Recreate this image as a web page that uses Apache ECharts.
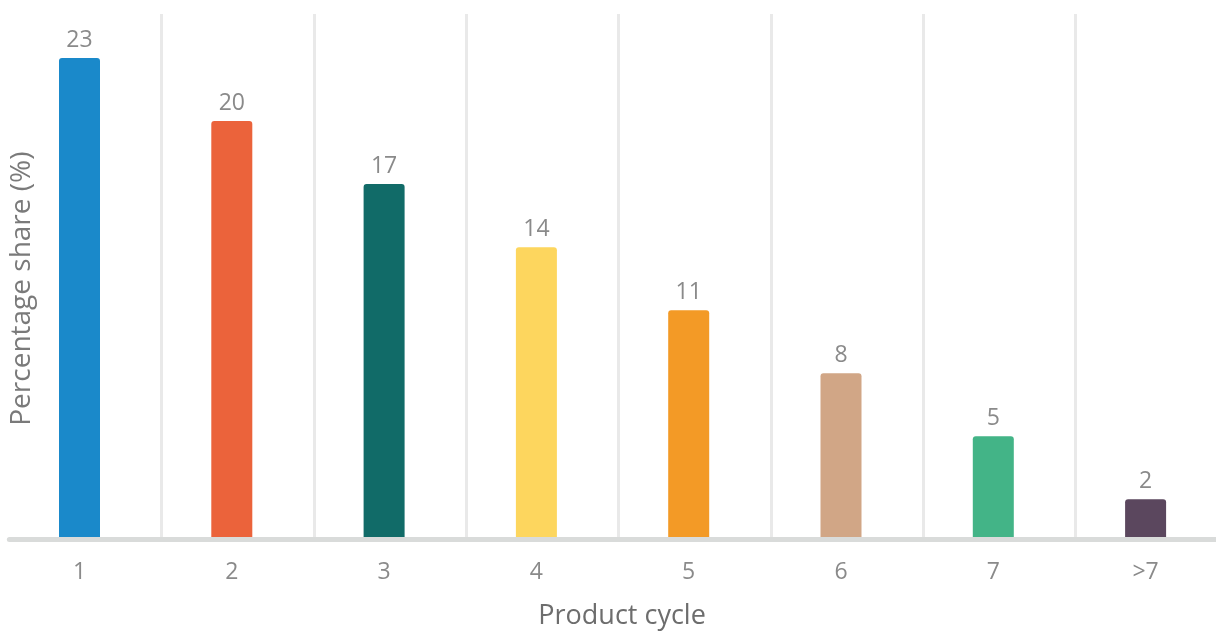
<!DOCTYPE html>
<html>
<head>
<meta charset="utf-8">
<script src="https://cdn.jsdelivr.net/npm/echarts@6/dist/echarts.min.js"></script>
<style>
  html, body { margin: 0; padding: 0; background: #ffffff; }
  #chart { width: 1216px; height: 633px; }
</style>
</head>
<body>
<div id="chart"></div>
<script>
// Share of products by product cycle
const categories = ['1', '2', '3', '4', '5', '6', '7', '>7'];
const shares = [23, 20, 17, 14, 11, 8, 5, 2];
const barColors = ['#1a89ca', '#eb633b', '#116b68', '#fdd65e', '#f39a26', '#d1a686', '#43b487', '#5b475e'];

const chart = echarts.init(document.getElementById('chart'), null, { renderer: 'canvas' });
const fontFamily = '"Open Sans", "Noto Sans", sans-serif';

chart.setOption({
  backgroundColor: '#ffffff',
  animation: false,
  grid: [
    // plotting area for the bars
    { left: 3.35, top: 16, width: 1218.4, bottom: 91.7, containLabel: false, outerBoundsMode: 'none' },
    // frame carrying the separators and the base line
    { left: 9.35, top: 14, width: 1218.4, bottom: 93.5, containLabel: false, outerBoundsMode: 'none' }
  ],
  xAxis: [{
    gridIndex: 0,
    type: 'category',
    data: categories,
    name: 'Product cycle',
    nameLocation: 'middle',
    nameGap: 62,
    nameTextStyle: { color: '#6d6d6d', fontSize: 27, fontFamily, padding: [0, 0, 0, 19] },
    axisLine: { show: false },
    axisTick: { show: false },
    axisLabel: { color: '#8a8a8a', fontSize: 23, fontFamily, margin: 20 },
    splitLine: { show: false }
  }, {
    gridIndex: 1,
    type: 'category',
    data: categories,
    z: 5,
    axisLine: { show: true, lineStyle: { color: '#d9dbda', width: 5 } },
    axisTick: { show: false },
    axisLabel: { show: false },
    splitLine: {
      show: true,
      interval: (index) => index > 0,
      lineStyle: { color: '#e9e9e9', width: 3 }
    }
  }],
  yAxis: [{
    gridIndex: 0,
    type: 'value',
    min: 0,
    max: 25,
    name: 'Percentage share (%)',
    nameLocation: 'middle',
    nameGap: -33,
    nameTextStyle: { color: '#7a7a7a', fontSize: 28, fontFamily, padding: [0, 20, 0, 0] },
    axisLine: { show: false },
    axisTick: { show: false },
    axisLabel: { show: false },
    splitLine: { show: false }
  }, {
    gridIndex: 1,
    type: 'value',
    min: 0,
    max: 25,
    axisLine: { show: false },
    axisTick: { show: false },
    axisLabel: { show: false },
    splitLine: { show: false }
  }],
  series: [{
    type: 'bar',
    xAxisIndex: 0,
    yAxisIndex: 0,
    z: 2,
    data: shares.map((v, i) => ({ value: v, itemStyle: { color: barColors[i] } })),
    barWidth: 41,
    itemStyle: { borderRadius: [3, 3, 0, 0] },
    label: {
      show: true,
      position: 'top',
      distance: 6,
      color: '#8a8a8a',
      fontSize: 23,
      fontFamily
    }
  }]
});
</script>
</body>
</html>
